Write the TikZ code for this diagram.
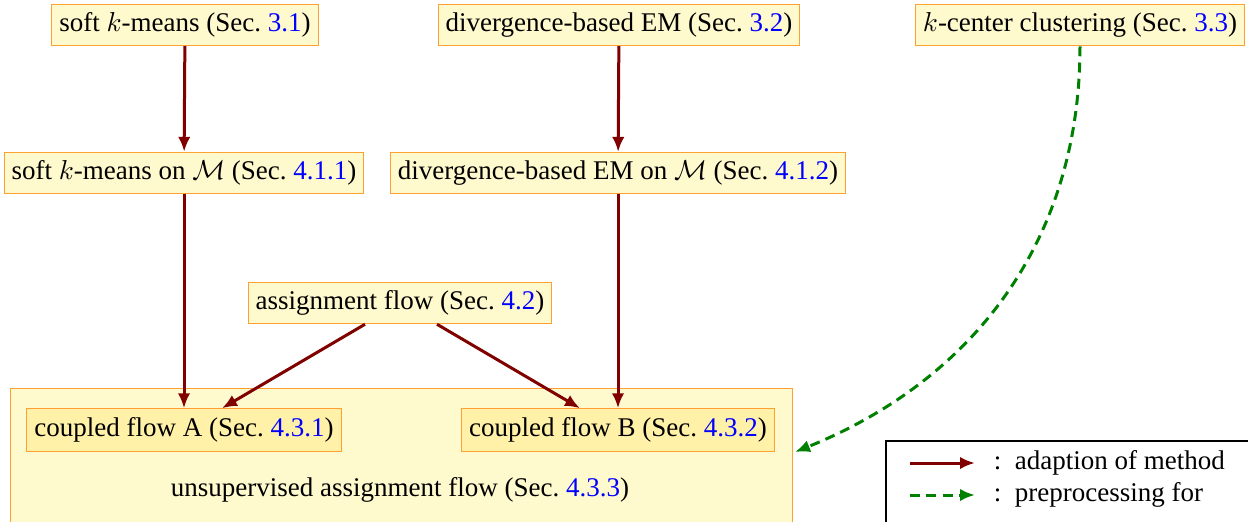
\documentclass[tikz,border=0pt]{standalone}
\usepackage{fontspec}
\setmainfont{Liberation Serif}
\usetikzlibrary{arrows.meta}
\definecolor{boxfill}{RGB}{255,250,205}
\definecolor{innerfill}{RGB}{255,241,168}
\definecolor{boxline}{RGB}{255,160,50}
\definecolor{adapt}{RGB}{128,0,0}
\definecolor{prep}{RGB}{0,128,0}
\newcommand{\secref}[1]{(Sec.~\textcolor{blue}{#1})}
\begin{document}
\begin{tikzpicture}[x=0.4pt,y=-0.4pt]
    \tikzstyle{every node}+=[font=\fontsize{10.8}{13}\selectfont]
    \tikzstyle{method}=[draw=boxline, fill=boxfill, inner xsep=3pt, minimum height=16pt]
    \tikzstyle{flowbox}=[draw=boxline, fill=innerfill, inner xsep=3pt, minimum height=17pt]
    \tikzstyle{adaption}=[draw=adapt, line width=1.2pt, -{Latex[length=6pt,width=5pt]}]
    \tikzstyle{preproc}=[draw=prep, line width=1.2pt, dashed, dash pattern=on 4pt off 2.5pt, -{Latex[length=6pt,width=5pt]}]
    \useasboundingbox (0,0) rectangle (1248,521);
    % methods from Sec. 3
    \node [method] (km) at (185,25) {soft $k$-means \secref{3.1}};
    \node [method] (em) at (619,25) {divergence-based EM \secref{3.2}};
    \node [method] (kc) at (1080,25) {$k$-center clustering \secref{3.3}};
    % adapted to the manifold
    \node [method] (kmM) at (184,173) {soft $k$-means on $\mathcal{M}$ \secref{4.1.1}};
    \node [method] (emM) at (618,173) {divergence-based EM on $\mathcal{M}$ \secref{4.1.2}};
    \node [method] (af) at (400,303) {assignment flow \secref{4.2}};
    % unsupervised assignment flow
    \node [method, anchor=north west, minimum width=312.8pt, minimum height=60pt] (uaf) at (10,388) {};
    \node (uaflabel) at (400,490) {unsupervised assignment flow \secref{4.3.3}};
    \node [flowbox] (cfA) at (184,430) {coupled flow A \secref{4.3.1}};
    \node [flowbox] (cfB) at (618,430) {coupled flow B \secref{4.3.2}};
    \coordinate (uafin) at (795,452);
    % connections
    \draw [adaption] (km) -- (kmM);
    \draw [adaption] (em) -- (emM);
    \draw [adaption] (kmM) -- (cfA);
    \draw [adaption] (emM) -- (cfB);
    \draw [adaption] (af.south -| 365,0) -- (cfA.north -| 222,0);
    \draw [adaption] (af.south -| 437,0) -- (cfB.north -| 580,0);
    \draw [preproc] (kc) to[out=-90,in=22] (uafin);
    % legend
    \node [draw=black, thick, anchor=north west, minimum width=160pt, minimum height=40pt] (legend) at (885,440) {};
    \coordinate (la1) at (910,463);
    \coordinate (lb1) at (975,463);
    \coordinate (la2) at (910,495);
    \coordinate (lb2) at (975,495);
    \draw [adaption] (la1) -- (lb1);
    \draw [preproc] (la2) -- (lb2);
    \node [anchor=west] (lt1) at (985,463) {:\ \ adaption of method};
    \node [anchor=west] (lt2) at (985,495) {:\ \ preprocessing for};
\end{tikzpicture}
\end{document}
